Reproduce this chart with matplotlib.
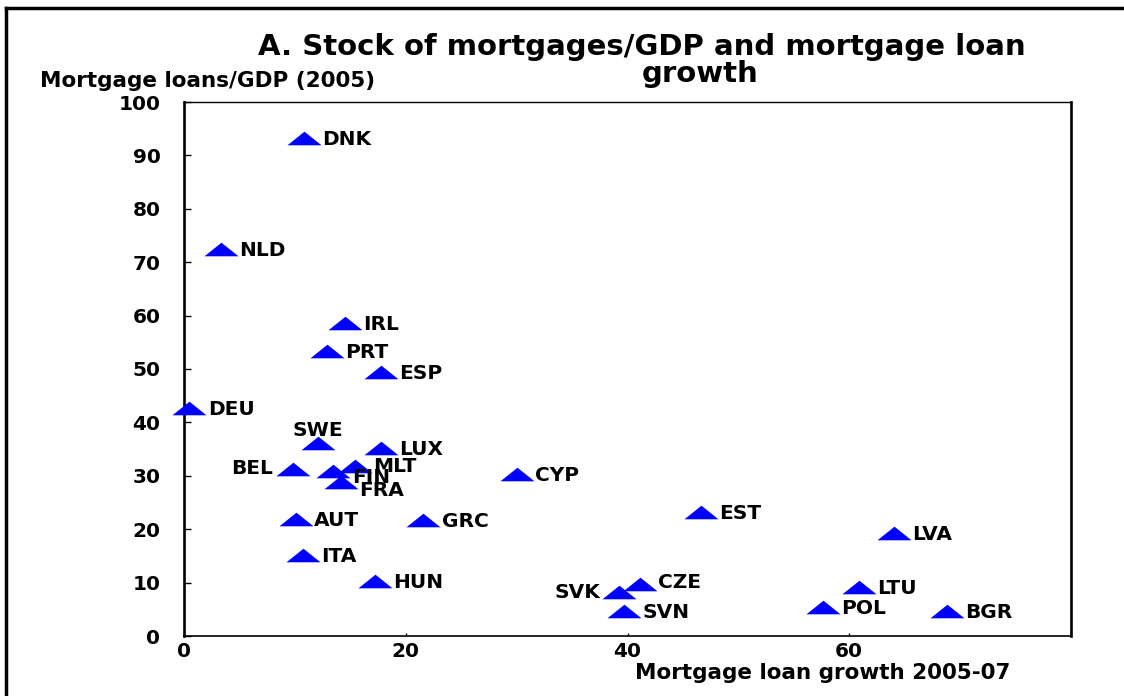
import numpy as np
import matplotlib
matplotlib.use("Agg")
import matplotlib.pyplot as plt
from matplotlib.lines import Line2D

# values
countries = ['DNK', 'NLD', 'IRL', 'PRT', 'ESP', 'DEU', 'SWE', 'LUX', 'BEL', 'MLT',
             'FIN', 'FRA', 'CYP', 'EST', 'AUT', 'GRC', 'LVA', 'ITA', 'HUN', 'CZE',
             'SVK', 'LTU', 'SVN', 'POL', 'BGR']
loan_growth = [10.8, 3.3, 14.5, 12.9, 17.8, 0.45, 12.1, 17.8, 9.8, 15.4,
               13.4, 14.2, 30.0, 46.6, 10.1, 21.6, 64.0, 10.7, 17.2, 41.1,
               39.2, 60.9, 39.7, 57.6, 68.8]
mortgage_gdp = [93.3, 72.5, 58.6, 53.4, 49.4, 42.7, 36.1, 35.2, 31.3, 31.8,
                30.9, 28.8, 30.3, 23.2, 21.9, 21.7, 19.3, 15.2, 10.3, 9.7,
                8.2, 9.2, 4.7, 5.4, 4.7]
x_ticks = [0, 20, 40, 60]
y_ticks = [0, 10, 20, 30, 40, 50, 60, 70, 80, 90, 100]

# label placement (offset in points, alignment); default is right of the marker
label_pos = {
    'SWE': (0, 5, 'center'),
    'BEL': (-14, -4, 'right'),
    'SVK': (-13, -4, 'right'),
    'FIN': (14, -9, 'left'),
    'FRA': (13, -10, 'left'),
    'MLT': (13, -4, 'left'),
    'CZE': (13, -3, 'left'),
    'DEU': (14, -5, 'left'),
}

plt.rcParams['font.family'] = ['DejaVu Sans']
plt.rcParams['font.weight'] = 'bold'

fig = plt.figure(figsize=(11.24, 6.96), dpi=100)
ax = fig.add_axes([184 / 1124, 60 / 696, 887 / 1124, 534 / 696])

# flattened triangle marker
tri = [(-1, -0.4), (1, -0.4), (0, 0.4)]
ax.scatter(loan_growth, mortgage_gdp, marker=tri, s=24.5 ** 2, c='#0000FF',
           linewidths=0, zorder=3, clip_on=False)

for name, xv, yv in zip(countries, loan_growth, mortgage_gdp):
    dx, dy, ha = label_pos.get(name, (13, -5, 'left'))
    ax.annotate(name, (xv, yv), xytext=(dx, dy), textcoords='offset points',
                ha=ha, va='baseline', fontsize=14.5, fontweight='bold', zorder=4)

ax.set_xlim(0, 80)
ax.set_ylim(0, 100)
ax.set_xticks(x_ticks)
ax.set_yticks(y_ticks)
ax.tick_params(axis='y', direction='in', length=5, width=1, pad=17, labelsize=14.5)
ax.tick_params(axis='x', direction='in', length=2.5, width=1, pad=4, labelsize=14.5)
for lab in ax.get_xticklabels() + ax.get_yticklabels():
    lab.set_fontweight('bold')

ax.spines['left'].set_linewidth(1.9)
ax.spines['right'].set_linewidth(1.9)
ax.spines['top'].set_linewidth(1.0)
ax.spines['bottom'].set_linewidth(1.2)

# titles and axis captions
fig.text(642 / 1124, 1 - 47 / 696, 'A. Stock of mortgages/GDP and mortgage loan',
         ha='center', va='center', fontsize=21, fontweight='bold')
fig.text(700 / 1124, 1 - 74 / 696, 'growth',
         ha='center', va='center', fontsize=21, fontweight='bold')
fig.text(40 / 1124, 1 - 81 / 696, 'Mortgage loans/GDP (2005)',
         ha='left', va='center', fontsize=15.5, fontweight='bold')
fig.text(823 / 1124, 1 - 673 / 696, 'Mortgage loan growth 2005-07',
         ha='center', va='center', fontsize=15.5, fontweight='bold')

# outer frame (left and top edges visible)
fig.add_artist(Line2D([6 / 1124, 6 / 1124], [0, 1 - 8 / 696], transform=fig.transFigure,
                      color='black', linewidth=2.5))
fig.add_artist(Line2D([6 / 1124, 1], [1 - 8 / 696, 1 - 8 / 696], transform=fig.transFigure,
                      color='black', linewidth=2.5))

fig.savefig('out.png', dpi=100)
